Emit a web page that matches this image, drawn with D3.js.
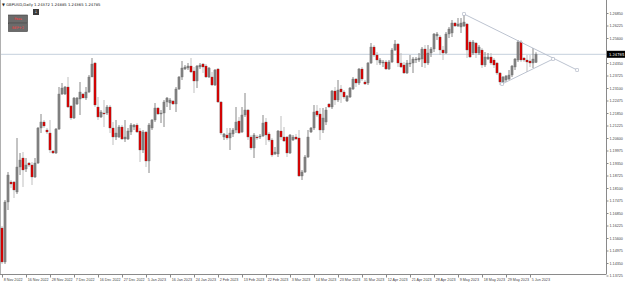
<!DOCTYPE html>
<html>
<head>
<meta charset="utf-8">
<script src="https://cdn.jsdelivr.net/npm/d3@7"></script>
<style>
  body { margin: 0; background: #fff; }
  svg { display: block; font-family: "DejaVu Sans", sans-serif; }
  .axis text { font-size: 3.7px; fill: #444; }
  .axis line { stroke: #888; }
  .axis .domain { display: none; }
</style>
</head>
<body>
<svg width="625" height="284"></svg>
<script>
const chartTitle = 'GBPUSD,Daily  1.24372 1.24885 1.24365 1.24785';

// one label every 8 bars
const dateLabels = ['8 Nov 2022', '16 Nov 2022', '28 Nov 2022', '7 Dec 2022', '16 Dec 2022',
  '27 Dec 2022', '5 Jan 2023', '16 Jan 2023', '24 Jan 2023', '2 Feb 2023', '13 Feb 2023',
  '22 Feb 2023', '3 Mar 2023', '14 Mar 2023', '23 Mar 2023', '31 Mar 2023', '12 Apr 2023',
  '21 Apr 2023', '28 Apr 2023', '9 May 2023', '18 May 2023', '29 May 2023', '5 Jun 2023'];
const labelEvery = 8;

const opens = [
  1.1610,1.1440,1.1740,1.1840,1.1840,1.1790,1.1915,1.1960,1.1905,1.1935,
  1.1925,1.1865,1.1935,1.2110,1.2140,1.2100,1.2085,1.1995,1.1985,1.2105,
  1.2280,1.2280,1.2315,1.2220,1.2160,1.2230,1.2255,1.2280,1.2260,1.2290,
  1.2365,1.2435,1.2215,1.2165,1.2185,1.2185,1.2215,1.2110,1.2065,1.2065,
  1.2115,1.2055,1.2055,1.2090,1.2115,1.2125,1.2095,1.2000,1.2090,1.1945,
  1.2110,1.2150,1.2210,1.2180,1.2185,1.2240,1.2235,1.2245,1.2230,1.2305,
  1.2365,1.2405,1.2410,1.2420,1.2395,1.2345,1.2415,1.2430,1.2420,1.2365,
  1.2365,1.2325,1.2405,1.2240,1.2065,1.2075,1.2060,1.2080,1.2100,1.2145,
  1.2090,1.2175,1.2200,1.2065,1.2010,1.2065,1.2065,1.2070,1.2140,1.2080,
  1.2050,1.1980,1.1980,1.2095,1.2065,1.2065,1.1985,1.2050,1.2065,1.2060,
  1.1870,1.1890,1.1965,1.2090,1.2110,1.2195,1.2180,1.2100,1.2140,1.2230,
  1.2215,1.2295,1.2250,1.2305,1.2290,1.2245,1.2265,1.2305,1.2355,1.2335,
  1.2405,1.2340,1.2335,1.2435,1.2515,1.2475,1.2435,1.2435,1.2440,1.2405,
  1.2440,1.2500,1.2530,1.2435,1.2425,1.2385,1.2430,1.2435,1.2450,1.2450,
  1.2455,1.2505,1.2435,1.2485,1.2505,1.2570,1.2565,1.2500,1.2485,1.2580,
  1.2585,1.2635,1.2620,1.2615,1.2620,1.2630,1.2540,1.2485,1.2535,1.2485,
  1.2500,1.2425,1.2455,1.2465,1.2450,1.2435,1.2385,1.2340,1.2350,1.2355,
  1.2375,1.2415,1.2450,1.2540,1.2460,1.2450,1.2445,1.2435,1.24372];

const highs = [
  1.1620,1.1750,1.1890,1.1850,1.1845,1.2060,1.1985,1.1990,1.1960,1.1940,
  1.1940,1.1960,1.2115,1.2180,1.2150,1.2110,1.2150,1.2000,1.2110,1.2315,
  1.2335,1.2320,1.2365,1.2225,1.2265,1.2265,1.2340,1.2285,1.2315,1.2375,
  1.2460,1.2440,1.2265,1.2200,1.2250,1.2225,1.2225,1.2140,1.2150,1.2125,
  1.2125,1.2150,1.2110,1.2135,1.2130,1.2135,1.2110,1.2100,1.2095,1.2135,
  1.2155,1.2235,1.2215,1.2200,1.2250,1.2265,1.2260,1.2250,1.2315,1.2370,
  1.2445,1.2425,1.2435,1.2460,1.2415,1.2425,1.2435,1.2435,1.2430,1.2415,
  1.2390,1.2405,1.2410,1.2245,1.2085,1.2110,1.2110,1.2110,1.2215,1.2165,
  1.2215,1.2285,1.2205,1.2075,1.2085,1.2075,1.2080,1.2175,1.2160,1.2090,
  1.2060,1.2015,1.2100,1.2170,1.2115,1.2070,1.2080,1.2075,1.2080,1.2100,
  1.1900,1.1975,1.2100,1.2115,1.2225,1.2225,1.2210,1.2210,1.2215,1.2235,
  1.2300,1.2315,1.2350,1.2325,1.2300,1.2275,1.2315,1.2365,1.2360,1.2410,
  1.2415,1.2350,1.2440,1.2535,1.2525,1.2490,1.2460,1.2450,1.2450,1.2450,
  1.2510,1.2550,1.2535,1.2485,1.2440,1.2450,1.2475,1.2465,1.2465,1.2485,
  1.2515,1.2525,1.2525,1.2515,1.2585,1.2590,1.2575,1.2520,1.2590,1.2615,
  1.2650,1.2640,1.2660,1.2660,1.2680,1.2635,1.2550,1.2550,1.2540,1.2525,
  1.2510,1.2490,1.2485,1.2485,1.2460,1.2440,1.2390,1.2370,1.2375,1.2400,
  1.2425,1.2460,1.2550,1.2550,1.2465,1.2475,1.2475,1.2510,1.24885];

const lows = [
  1.1430,1.1430,1.1700,1.1810,1.1760,1.1780,1.1875,1.1815,1.1890,1.1915,
  1.1825,1.1860,1.1930,1.2085,1.2110,1.2080,1.1985,1.1980,1.1980,1.2100,
  1.2275,1.2275,1.2210,1.2150,1.2155,1.2225,1.2175,1.2260,1.2250,1.2285,
  1.2365,1.2215,1.2150,1.2160,1.2115,1.2175,1.2085,1.2025,1.2050,1.2060,
  1.2050,1.2040,1.2050,1.2075,1.2100,1.2085,1.1940,1.1985,1.1915,1.1885,
  1.2100,1.2140,1.2175,1.2135,1.2115,1.2215,1.2200,1.2225,1.2190,1.2300,
  1.2350,1.2400,1.2400,1.2385,1.2285,1.2310,1.2405,1.2385,1.2360,1.2360,
  1.2320,1.2320,1.2235,1.2075,1.2050,1.2050,1.2000,1.2065,1.2085,1.2080,
  1.2085,1.2165,1.2050,1.2000,1.1960,1.2050,1.2055,1.2065,1.2025,1.2040,
  1.1965,1.1975,1.1965,1.2050,1.2040,1.1965,1.1980,1.2045,1.2050,1.1865,
  1.1850,1.1885,1.1960,1.2085,1.2100,1.2165,1.2050,1.2085,1.2125,1.2210,
  1.2205,1.2225,1.2240,1.2235,1.2255,1.2240,1.2260,1.2300,1.2315,1.2325,
  1.2345,1.2325,1.2325,1.2430,1.2465,1.2425,1.2425,1.2415,1.2400,1.2400,
  1.2435,1.2495,1.2415,1.2410,1.2380,1.2380,1.2415,1.2385,1.2435,1.2440,
  1.2415,1.2410,1.2425,1.2465,1.2490,1.2550,1.2475,1.2450,1.2480,1.2560,
  1.2565,1.2615,1.2615,1.2585,1.2615,1.2460,1.2460,1.2475,1.2460,1.2475,
  1.2410,1.2415,1.2450,1.2425,1.2410,1.2375,1.2325,1.2335,1.2340,1.2350,
  1.2365,1.2400,1.2440,1.2440,1.2440,1.2390,1.2415,1.2410,1.24365];

const closes = [
  1.1440,1.1740,1.1875,1.1830,1.1800,1.1915,1.1950,1.1900,1.1925,1.1925,
  1.1865,1.1935,1.2110,1.2140,1.2120,1.2090,1.2000,1.1985,1.2105,1.2280,
  1.2310,1.2315,1.2215,1.2160,1.2260,1.2260,1.2290,1.2260,1.2290,1.2365,
  1.2430,1.2225,1.2165,1.2190,1.2180,1.2215,1.2110,1.2065,1.2085,1.2115,
  1.2055,1.2065,1.2095,1.2125,1.2125,1.2090,1.2000,1.2090,1.1945,1.2125,
  1.2150,1.2210,1.2180,1.2185,1.2240,1.2260,1.2250,1.2230,1.2305,1.2365,
  1.2410,1.2415,1.2420,1.2390,1.2345,1.2420,1.2425,1.2415,1.2365,1.2410,
  1.2325,1.2400,1.2240,1.2085,1.2080,1.2060,1.2085,1.2100,1.2140,1.2085,
  1.2175,1.2200,1.2065,1.2010,1.2075,1.2060,1.2070,1.2135,1.2075,1.2050,
  1.1975,1.1990,1.2095,1.2065,1.2045,1.1985,1.2075,1.2065,1.2055,1.1870,
  1.1890,1.1965,1.2065,1.2110,1.2190,1.2175,1.2100,1.2160,1.2200,1.2215,
  1.2295,1.2250,1.2300,1.2290,1.2265,1.2270,1.2310,1.2355,1.2335,1.2405,
  1.2355,1.2330,1.2435,1.2515,1.2475,1.2450,1.2450,1.2440,1.2405,1.2440,
  1.2500,1.2530,1.2435,1.2415,1.2385,1.2435,1.2435,1.2455,1.2455,1.2460,
  1.2505,1.2435,1.2485,1.2505,1.2580,1.2580,1.2500,1.2485,1.2580,1.2605,
  1.2635,1.2620,1.2630,1.2635,1.2640,1.2500,1.2465,1.2540,1.2485,1.2515,
  1.2425,1.2465,1.2465,1.2435,1.2425,1.2385,1.2340,1.2365,1.2370,1.2375,
  1.2420,1.2455,1.2540,1.2450,1.2450,1.2440,1.2435,1.2455,1.24785];

const priceTicks = [1.26850, 1.26225, 1.25600, 1.24975, 1.24350, 1.23725, 1.23100,
  1.22475, 1.21850, 1.21225, 1.20600, 1.19975, 1.19350, 1.18725, 1.18100, 1.17475,
  1.16850, 1.16225, 1.15600, 1.14975, 1.14350, 1.13725];
const lastPrice = 1.24785;

// drawn trend lines: [bar index, price]
const trendUpper = [[154, 1.2680], [191.7, 1.2400]];
const trendLower = [[166.7, 1.2330], [183.7, 1.2455]];

const svg = d3.select('svg');
const width = +svg.attr('width');
const height = +svg.attr('height');
const plotRight = 606;
const plotBottom = 274;

const n = opens.length;
const bars = d3.range(n).map(i => ({
  i, o: opens[i], h: highs[i], l: lows[i], c: closes[i]
}));

const x = d3.scaleLinear().domain([0, n - 1]).range([2, 2 + 3 * (n - 1)]);
const y = d3.scaleLinear().domain([1.2750, 1.1380]).range([0, plotBottom]);

// frame
svg.append('line').attr('x1', 0.5).attr('x2', 0.5).attr('y1', 0).attr('y2', plotBottom)
  .attr('stroke', '#b0b0b0');
svg.append('line').attr('x1', 0).attr('x2', plotRight + 0.5).attr('y1', plotBottom + 0.5).attr('y2', plotBottom + 0.5)
  .attr('stroke', '#8a8a8a');
svg.append('line').attr('x1', plotRight + 0.5).attr('x2', plotRight + 0.5).attr('y1', 0).attr('y2', plotBottom)
  .attr('stroke', '#8a8a8a');

// bid line
svg.append('line')
  .attr('x1', 1).attr('x2', plotRight)
  .attr('y1', y(lastPrice)).attr('y2', y(lastPrice))
  .attr('stroke', '#c5d0dc').attr('stroke-width', 1);

// candles
const g = svg.append('g');
const isBear = d => d.c < d.o;

g.selectAll('line.wick').data(bars).enter().append('line')
  .attr('class', 'wick')
  .attr('x1', d => x(d.i)).attr('x2', d => x(d.i))
  .attr('y1', d => y(d.h)).attr('y2', d => y(d.l))
  .attr('stroke', d => isBear(d) ? '#b8b8b8' : '#7a7a7a')
  .attr('stroke-width', 0.9);

g.selectAll('rect.body').data(bars).enter().append('rect')
  .attr('class', 'body')
  .attr('x', d => x(d.i) - 1.1)
  .attr('width', 2.2)
  .attr('y', d => y(Math.max(d.o, d.c)))
  .attr('height', d => Math.max(0.8, Math.abs(y(d.o) - y(d.c))))
  .attr('fill', d => isBear(d) ? '#d80000' : '#808080')
  .attr('stroke', d => isBear(d) ? '#5a5a5a' : '#6a6a6a')
  .attr('stroke-width', 0.3);

// trend lines
[trendUpper, trendLower].forEach(pts => {
  svg.append('line')
    .attr('x1', x(pts[0][0])).attr('y1', y(pts[0][1]))
    .attr('x2', x(pts[1][0])).attr('y2', y(pts[1][1]))
    .attr('stroke', '#b4bccb').attr('stroke-width', 0.9);
  pts.forEach(p => {
    svg.append('rect')
      .attr('x', x(p[0]) - 1.3).attr('y', y(p[1]) - 1.3)
      .attr('width', 2.6).attr('height', 2.6)
      .attr('fill', '#fff').attr('stroke', '#a8b0c0').attr('stroke-width', 0.6);
  });
});

// price axis
const currentY = y(lastPrice);
const yAxis = d3.axisRight(y)
  .tickValues(priceTicks.filter(p => Math.abs(y(p) - currentY) > 6))
  .tickSize(2)
  .tickSizeOuter(0)
  .tickPadding(1)
  .tickFormat(d3.format('.5f'));
svg.append('g').attr('class', 'axis')
  .attr('transform', `translate(${plotRight + 0.5},0)`)
  .call(yAxis);

svg.append('rect')
  .attr('x', plotRight + 1).attr('y', currentY - 3.5)
  .attr('width', width - plotRight - 1).attr('height', 7)
  .attr('fill', '#000');
svg.append('text')
  .attr('x', plotRight + 3).attr('y', currentY + 1.4)
  .attr('fill', '#fff').attr('font-size', '3.7px')
  .text(lastPrice.toFixed(5));

// date axis
const xAxis = d3.axisBottom(x)
  .tickValues(dateLabels.map((d, k) => k * labelEvery))
  .tickFormat((d, k) => dateLabels[k])
  .tickSize(3)
  .tickSizeOuter(0)
  .tickPadding(1);
const xAxisG = svg.append('g').attr('class', 'axis')
  .attr('transform', `translate(0,${plotBottom + 0.5})`)
  .call(xAxis);
xAxisG.selectAll('text').attr('text-anchor', 'start').attr('x', 1.2);

// header text and panel
svg.append('text').attr('x', 2).attr('y', 5.5).attr('font-size', '3.8px').attr('fill', '#222')
  .text('\u25BC ' + chartTitle);

svg.append('rect').attr('x', 33).attr('y', 9).attr('width', 6).attr('height', 6)
  .attr('fill', '#3a3a3a');
svg.append('text').attr('x', 36).attr('y', 13.3).attr('font-size', '4px')
  .attr('text-anchor', 'middle').attr('fill', '#ddd').text('\u2193');

const panel = [['Pass', 15], ['BEP+2', 23.5]];
panel.forEach(([label, top]) => {
  svg.append('rect').attr('x', 8.5).attr('y', top).attr('width', 19).attr('height', 8)
    .attr('fill', '#6b6b6b').attr('stroke', '#3c3c3c').attr('stroke-width', 0.6);
  svg.append('text').attr('x', 18).attr('y', top + 5.3).attr('font-size', '3.5px')
    .attr('text-anchor', 'middle').attr('fill', '#ff3b3b').text(label);
});
</script>
</body>
</html>
